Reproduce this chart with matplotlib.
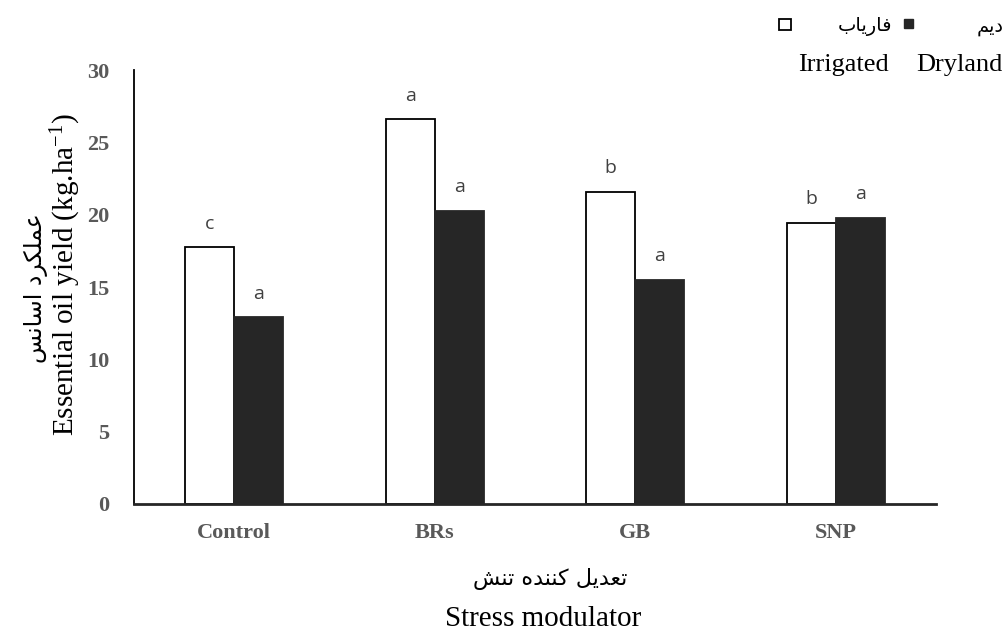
import numpy as np
import matplotlib.pyplot as plt
from matplotlib.patches import Rectangle

# data
groups = ['Control', 'BRs', 'GB', 'SNP']
irrigated = [17.75, 26.6, 21.6, 19.45]
dryland = [12.9, 20.25, 15.5, 19.8]
irr_letters = ['c', 'a', 'b', 'b']
dry_letters = ['a', 'a', 'a', 'a']
yticks = [0, 5, 10, 15, 20, 25, 30]

# Persian labels, written with Arabic presentation forms (logical order),
# reversed for left-to-right drawing since matplotlib does no shaping
def rtl(s):
    return s[::-1]

ylab_fa = rtl('\uFECB\uFEE4\uFEE0\uFEDC\uFEAE\uFEA9 \uFE8D\uFEB3\uFE8E\uFEE7\uFEB2')   # عملکرد اسانس
xlab_fa = rtl('\uFE97\uFECC\uFEAA\uFEF3\uFEDE \uFEDB\uFEE8\uFEE8\uFEAA\uFEE9 \uFE97\uFEE8\uFEB6')  # تعدیل کننده تنش
irr_fa = rtl('\uFED3\uFE8E\uFEAD\uFEF3\uFE8E\uFE8F')  # فاریاب
dry_fa = rtl('\uFEA9\uFEF3\uFEE2')  # دیم

serif = 'Liberation Serif'
fa_font = 'DejaVu Sans'

fig = plt.figure(figsize=(10.04, 6.33), dpi=100)
ax = fig.add_axes([0.1335, 0.2038, 0.7988, 0.6856])

x = np.arange(len(groups))
w = 0.245
b1 = ax.bar(x - w / 2, irrigated, w, color='white', edgecolor='black', linewidth=1.3, zorder=2)
b2 = ax.bar(x + w / 2, dryland, w, color='#262626', edgecolor='#262626', linewidth=1.3, zorder=2)

for bars, letters in [(b1, irr_letters), (b2, dry_letters)]:
    for r, t in zip(bars, letters):
        ax.annotate(t, (r.get_x() + r.get_width() / 2, r.get_height()),
                    xytext=(0, 17), textcoords='offset points', ha='center', va='center',
                    fontsize=14, color='#404040', family='Open Sans')

ax.set_xlim(-0.5, len(groups) - 0.5)
ax.set_ylim(0, 30)
ax.set_yticks(yticks)
ax.set_xticks(x)
ax.set_xticklabels(groups)
ax.tick_params(length=0, pad=14, labelsize=16, labelcolor='#595959')
ax.tick_params(axis='y', pad=18)
for lab in ax.get_xticklabels() + ax.get_yticklabels():
    lab.set_family(serif)
    lab.set_fontweight('bold')

for s in ['top', 'right']:
    ax.spines[s].set_visible(False)
ax.spines['left'].set_linewidth(1.3)
ax.spines['bottom'].set_linewidth(2)
ax.spines['bottom'].set_color('#262626')

# axis titles
fig.text(0.066, 0.566, 'Essential oil yield (kg.ha$\\mathregular{^{-1}}$)', rotation=90,
         ha='center', va='center', fontsize=21, family=serif)
fig.text(0.036, 0.545, ylab_fa, rotation=90, ha='center', va='center', fontsize=17, family=fa_font)
fig.text(0.548, 0.085, xlab_fa, ha='center', va='center', fontsize=16, family=fa_font)
fig.text(0.541, 0.022, 'Stress modulator', ha='center', va='center', fontsize=21, family=serif)

# legend drawn by hand to keep the two-language layout
fig.patches.append(Rectangle((0.776, 0.952), 0.0115, 0.018, transform=fig.transFigure,
                             facecolor='white', edgecolor='black', linewidth=1.3))
fig.text(0.862, 0.958, irr_fa, ha='center', va='center', fontsize=14, family=fa_font)
fig.patches.append(Rectangle((0.900, 0.955), 0.009, 0.015, transform=fig.transFigure,
                             facecolor='#262626', edgecolor='#262626'))
fig.text(0.973, 0.958, dry_fa, ha='left', va='center', fontsize=14, family=fa_font)
fig.text(0.840, 0.897, 'Irrigated', ha='center', va='center', fontsize=19, family=serif)
fig.text(0.9985, 0.897, 'Dryland', ha='right', va='center', fontsize=19, family=serif)

fig.savefig('out.png', dpi=100)
